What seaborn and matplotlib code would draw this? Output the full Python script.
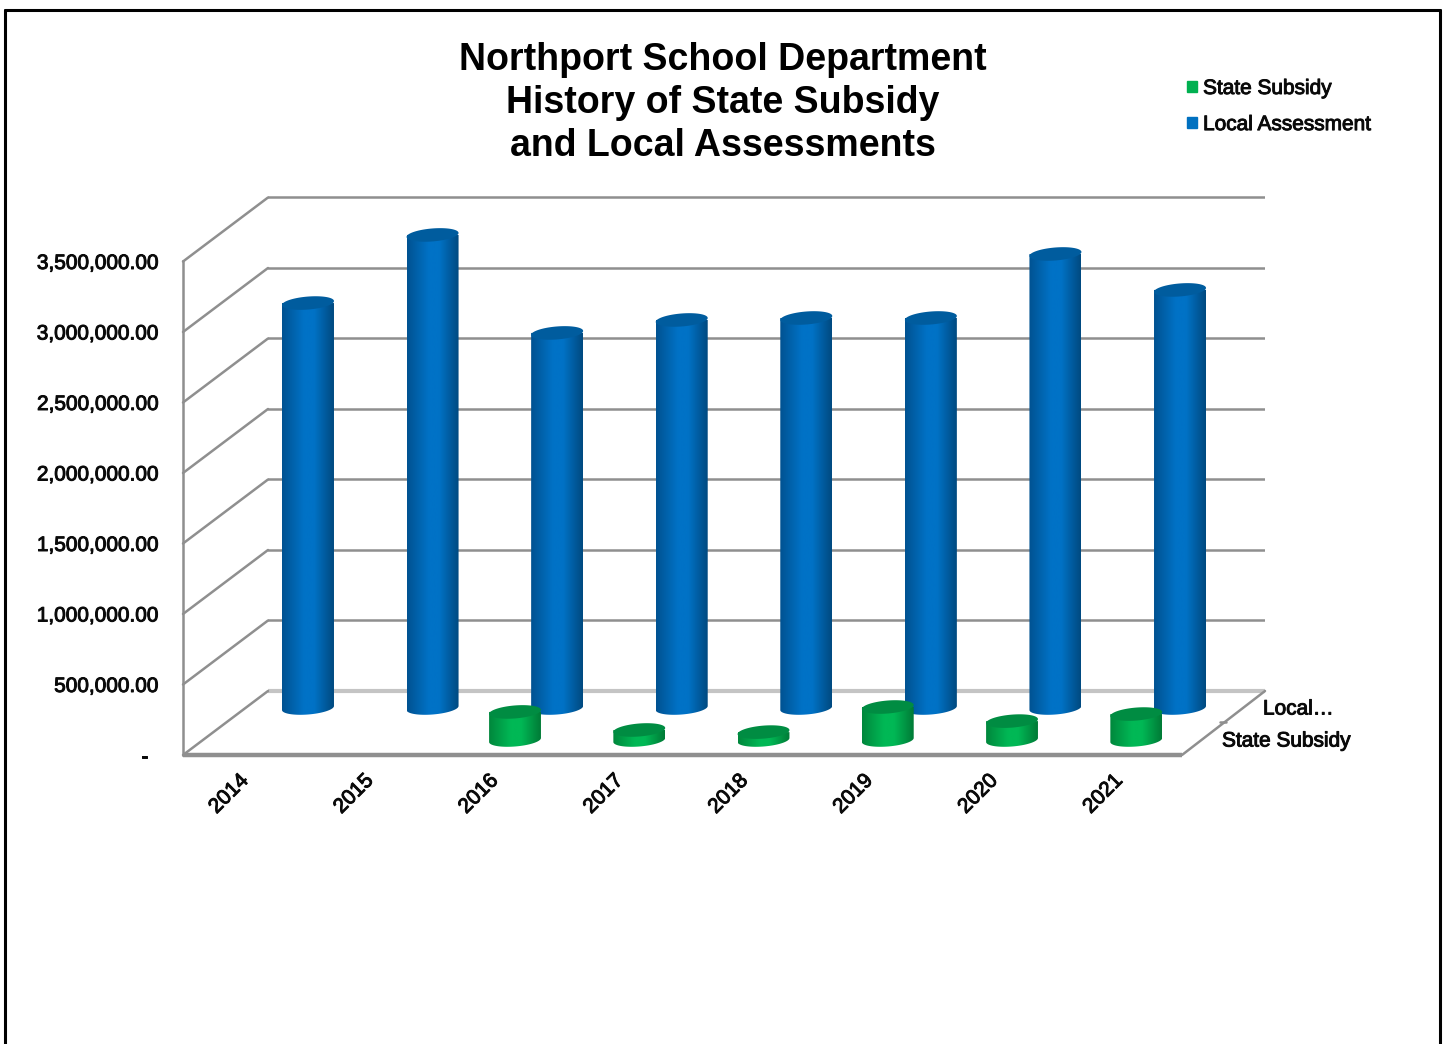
# -*- coding: utf-8 -*-
"""Northport School Department - subsidio e assessments, cilindros em falso 3D"""
import matplotlib
matplotlib.use('Agg')
import matplotlib.pyplot as plt
import matplotlib.patheffects as pe
import numpy as np
import seaborn as sns
from matplotlib.lines import Line2D
from matplotlib.patches import ConnectionPatch, Patch, Polygon

#%% Dados
years = ['2014', '2015', '2016', '2017', '2018', '2019', '2020', '2021']
local_assessment = [2872000, 3355000, 2660000, 2752000, 2766000, 2766000, 3220000, 2965000]
state_subsidy = [0, 0, 199000, 71000, 56000, 234000, 134000, 184000]
y_ticks = [0, 500000, 1000000, 1500000, 2000000, 2500000, 3000000, 3500000]
y_labels = ['-  ', '500,000.00', '1,000,000.00', '1,500,000.00', '2,000,000.00',
            '2,500,000.00', '3,000,000.00', '3,500,000.00']

#%% Layout (pixels da imagem)
W, H = 1445, 1044
PX_PER_UNIT = 70.5 / 500000
Y_TOP = 4000000
Y_BOTTOM = -120000
GREY = '#8f8f8f'
INK = '#0a0a0a'
BLUE = ['#005291', '#0072c6', '#004a80', '#005c9e']   # borda esq, centro, borda dir, topo
GREEN = ['#00873c', '#00b855', '#007a36', '#008c42']
HEAVY = [pe.withStroke(linewidth=0.7, foreground=INK)]  # texto do original e meio pesado

sns.set_theme(style='white')
plt.rcParams['font.family'] = ['Liberation Sans', 'DejaVu Sans']

fig = plt.figure(figsize=(W / 100, H / 100), dpi=100, facecolor='white')


def axes_at(left, right, base):
    """Axes transparente cujo valor 0 cai na linha de pixel base."""
    top = base - Y_TOP * PX_PER_UNIT
    bottom = base - Y_BOTTOM * PX_PER_UNIT
    ax = fig.add_axes([left / W, 1 - bottom / H, (right - left) / W, (bottom - top) / H])
    ax.patch.set_alpha(0)
    ax.set_xlim(-0.5, 7.5)
    ax.set_ylim(Y_BOTTOM, Y_TOP)
    for s in ax.spines.values():
        s.set_visible(False)
    ax.set_xticks([])
    ax.set_yticks([])
    return ax


def cylinders(ax, values, colors):
    """barplot do seaborn + gradiente e elipses para o efeito de cilindro."""
    sns.barplot(x=years, y=values, color=colors[1], width=52 / 124.6, ax=ax, saturation=1)
    ax.set_xlim(-0.5, 7.5)
    ax.set_ylim(Y_BOTTOM, Y_TOP)
    ax.set_xlabel('')
    ax.set_ylabel('')
    ax.set_xticks([])
    ax.set_yticks([])
    grad = matplotlib.colors.LinearSegmentedColormap.from_list(
        'cyl', [(0, colors[0]), (0.42, colors[1]), (0.62, colors[1]), (1, colors[2])])
    ramp = np.linspace(0, 1, 128).reshape(1, -1)
    b = 6.5 / PX_PER_UNIT
    tilt = 2.0 / PX_PER_UNIT
    t = np.linspace(0, 2 * np.pi, 90)
    for bar in ax.patches:
        h = bar.get_height()
        if h <= 0:
            continue
        x0, w = bar.get_x(), bar.get_width()
        xc = x0 + w / 2
        ex = xc + w / 2 * np.cos(t)
        ey = b * np.sin(t) + tilt * np.cos(t)
        low = t >= np.pi
        order = np.argsort(ex[low])
        xs = np.r_[x0, ex[low][order], x0 + w, x0 + w, x0]
        ys = np.r_[0, ey[low][order], 0, h, h]
        body = Polygon(np.c_[xs, ys], closed=True, transform=ax.transData, fc='none', ec='none')
        ax.add_patch(body)
        bar.set_visible(False)
        img = ax.imshow(ramp, extent=(x0, x0 + w, -b * 2, h + b), aspect='auto',
                        cmap=grad, zorder=3)
        img.set_clip_path(body)
        ax.fill(ex, h + ey, color=colors[3], lw=0, zorder=4)
    ax.set_xlim(-0.5, 7.5)
    ax.set_ylim(Y_BOTTOM, Y_TOP)


#%% Parede do fundo
ax_wall = axes_at(268, 1265, 691)
for v in y_ticks[1:]:
    ax_wall.axhline(v, color=GREY, lw=1.8, zorder=1)
ax_wall.axhline(0, color='#c4c4c4', lw=3, zorder=1)

#%% Plano da frente: eixos e rotulos
ax_front = axes_at(183, 1182, 755)
ax_front.set_ylim(Y_BOTTOM, Y_TOP)
ax_front.spines['left'].set_visible(True)
ax_front.spines['left'].set_bounds(0, y_ticks[-1])
ax_front.spines['left'].set_color(GREY)
ax_front.spines['left'].set_linewidth(1.8)
ax_front.axhline(0, color=GREY, lw=3.2, zorder=1)
ax_front.set_yticks(y_ticks, y_labels, fontsize=15, color=INK, path_effects=HEAVY)
ax_front.tick_params(axis='y', length=0, pad=17)
ax_front.set_xticks(range(len(years)), years, rotation=45, ha='right', va='center',
                    rotation_mode='anchor', fontsize=15, color=INK, path_effects=HEAVY)
ax_front.tick_params(axis='x', length=0, pad=4)

# diagonais da parede lateral e do piso
for v in y_ticks:
    fig.add_artist(ConnectionPatch((-0.5, v), (-0.5, v), 'data', 'data', axesA=ax_front,
                                   axesB=ax_wall, color=GREY, lw=1.8))
fig.add_artist(ConnectionPatch((7.5, 0), (7.5, 0), 'data', 'data', axesA=ax_front,
                               axesB=ax_wall, color=GREY, lw=1.8))
fig.add_artist(Line2D([1220 / W, 1226 / W], [1 - 722 / H, 1 - 722 / H], color=GREY, lw=1.8))

#%% Cilindros
ax_local = axes_at(245.7, 1242.3, 708)
cylinders(ax_local, local_assessment, BLUE)
ax_state = axes_at(204.4, 1198.4, 740)
cylinders(ax_state, state_subsidy, GREEN)

#%% Titulo, legenda e rotulos de profundidade
fig.text(723 / W, 1 - 103 / H, 'Northport School Department\nHistory of State Subsidy\nand Local Assessments',
         ha='center', va='center', fontsize=27, fontweight='bold', color='black', linespacing=1.24)

handles = [Patch(color='#00b050', label='State Subsidy'), Patch(color='#0070c0', label='Local Assessment')]
leg = fig.legend(handles=handles, loc='upper left', bbox_to_anchor=(1187 / W, 1 - 79 / H), frameon=False,
                 fontsize=15, handlelength=0.48, handleheight=0.48, handletextpad=0.29, labelspacing=0.82,
                 borderpad=0, borderaxespad=0)
for txt in leg.get_texts():
    txt.set_color(INK)
    txt.set_path_effects(HEAVY)

fig.text(1263 / W, 1 - 709 / H, 'Local…', ha='left', va='center', fontsize=15, color=INK, path_effects=HEAVY)
fig.text(1222 / W, 1 - 741 / H, 'State Subsidy', ha='left', va='center', fontsize=15, color=INK, path_effects=HEAVY)

#%% Moldura
for xs, ys in [((5, 5), (10, H)), ((5, 1440), (10, 10)), ((1440, 1440), (10, H))]:
    fig.add_artist(Line2D([x / W for x in xs], [1 - y / H for y in ys], color='black', lw=2.2))

fig.savefig('out.png', dpi=100)
